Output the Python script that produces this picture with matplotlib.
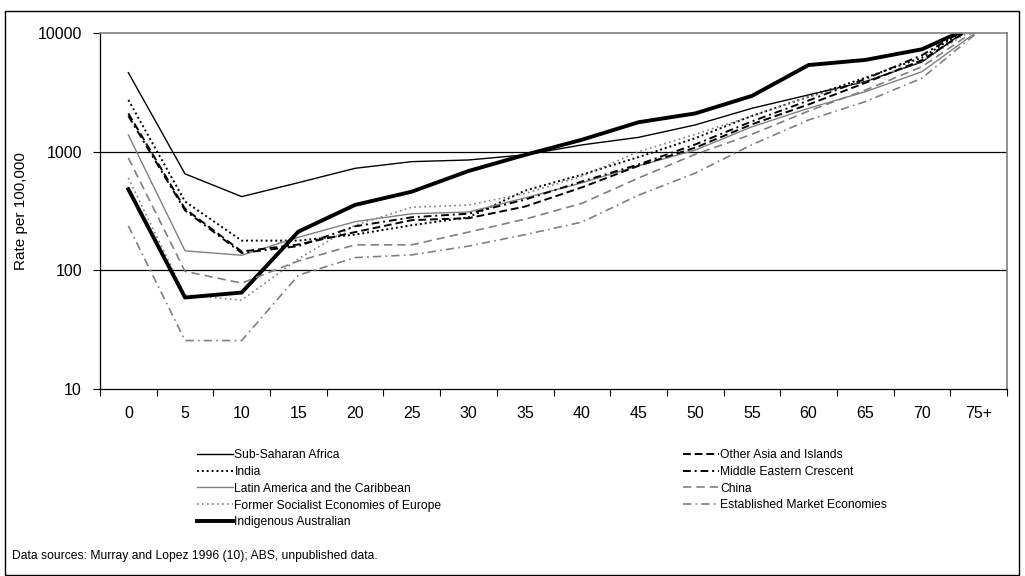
import matplotlib
matplotlib.use("Agg")
import matplotlib.pyplot as plt
from matplotlib.patches import Rectangle

plt.rcParams['font.family'] = ['Liberation Sans', 'DejaVu Sans']

# age groups (start of band)
ages = ['0', '5', '10', '15', '20', '25', '30', '35', '40', '45', '50', '55', '60', '65', '70', '75+']

# rates per 100,000
sub_saharan = [4630, 650, 418, 548, 724, 824, 851, 940, 1140, 1320, 1680, 2320, 3010, 3900, 5700, 12500]
india = [2730, 380, 178, 178, 200, 240, 280, 470, 640, 900, 1300, 2000, 2900, 4200, 6200, 12500]
latin_america = [1384, 146, 134, 190, 257, 300, 310, 408, 546, 760, 1030, 1620, 2320, 3200, 4720, 10500]
former_socialist = [600, 62, 56, 125, 240, 340, 355, 445, 620, 1000, 1400, 2000, 2900, 3900, 5800, 11500]
indigenous = [482, 59, 65, 212, 356, 460, 687, 940, 1260, 1770, 2100, 2950, 5370, 5930, 7290, 12000]
other_asia = [2100, 330, 144, 165, 210, 265, 275, 345, 500, 760, 1080, 1700, 2500, 3800, 5900, 12000]
middle_east = [2000, 320, 140, 160, 235, 280, 300, 395, 560, 780, 1150, 1800, 2700, 4100, 6500, 12500]
china = [885, 98, 78, 120, 164, 164, 210, 270, 367, 600, 950, 1400, 2200, 3300, 5200, 11000]
established = [237, 25.6, 25.6, 91, 128, 135, 160, 200, 255, 430, 660, 1145, 1850, 2640, 4160, 10300]

GREY = '#808080'

fig = plt.figure(figsize=(10.25, 5.76), dpi=100)
ax = fig.add_axes([100 / 1025, 1 - 389 / 576, 907 / 1025, 356 / 576])

x = range(len(ages))

series = [
    ('Sub-Saharan Africa', sub_saharan, dict(color='black', lw=1.0, ls='-')),
    ('India', india, dict(color='black', lw=1.4, ls=(0, (1, 1.5)))),
    ('Latin America and the Caribbean', latin_america, dict(color=GREY, lw=1.0, ls='-')),
    ('Former Socialist Economies of Europe', former_socialist, dict(color=GREY, lw=1.2, ls=(0, (1, 2)))),
    ('Indigenous Australian', indigenous, dict(color='black', lw=2.8, ls='-')),
    ('Other Asia and Islands', other_asia, dict(color='black', lw=1.4, ls=(0, (4, 2)))),
    ('Middle Eastern Crescent', middle_east, dict(color='black', lw=1.4, ls=(0, (4, 2, 1, 2)))),
    ('China', china, dict(color=GREY, lw=1.2, ls=(0, (5, 3)))),
    ('Established Market Economies', established, dict(color=GREY, lw=1.2, ls=(0, (5, 2.5, 1, 2.5)))),
]

handles = []
for label, vals, style in series:
    line, = ax.plot(x, vals, label=label, **style)
    handles.append(line)

ax.set_yscale('log')
ax.set_ylim(10, 10000)
ax.set_xlim(-0.5, len(ages) - 0.5)
ax.set_yticks([10, 100, 1000, 10000])
ax.set_yticklabels(['10', '100', '1000', '10000'])
ax.yaxis.set_minor_locator(matplotlib.ticker.NullLocator())
ax.tick_params(axis='y', which='major', direction='out', length=5, width=0.8,
               labelsize=11.5, pad=8)

# category boundaries get ticks, labels sit in the middle
ax.set_xticks([i - 0.5 for i in range(len(ages) + 1)])
ax.set_xticklabels([])
ax.set_xticks(list(x), minor=True)
ax.set_xticklabels(ages, minor=True)
ax.tick_params(axis='x', which='major', direction='out', length=5, width=0.8)
ax.tick_params(axis='x', which='minor', length=0, labelsize=11.5, pad=12)

for v in [100, 1000]:
    ax.axhline(v, color='black', lw=0.9, zorder=0.5)

ax.spines['top'].set_color(GREY)
ax.spines['right'].set_color(GREY)
ax.spines['left'].set_linewidth(0.9)
ax.spines['bottom'].set_linewidth(0.9)
ax.spines['top'].set_linewidth(1.2)
ax.spines['right'].set_linewidth(1.2)

ax.set_ylabel('Rate per 100,000', fontsize=11)
ax.yaxis.set_label_coords(-72 / 907, 0.5)

leg_kw = dict(loc='upper left', frameon=False, fontsize=8.7, handlelength=3.0,
              handletextpad=0.1, labelspacing=0.4, borderpad=0, borderaxespad=0)
fig.legend(handles=handles[:5], bbox_to_anchor=(197 / 1025, 1 - 449 / 576), **leg_kw)
fig.legend(handles=handles[5:], bbox_to_anchor=(683 / 1025, 1 - 449 / 576), **leg_kw)

fig.text(12 / 1025, 1 - 556 / 576,
         'Data sources: Murray and Lopez 1996 (10); ABS, unpublished data.',
         fontsize=8.7, va='center', ha='left')

# outer frame around the whole figure
fig.patches.append(Rectangle((5 / 1025, 1 / 576), 1014 / 1025, 564 / 576,
                             transform=fig.transFigure, fill=False,
                             edgecolor='black', lw=1.0))

fig.savefig('out.png', dpi=100)
